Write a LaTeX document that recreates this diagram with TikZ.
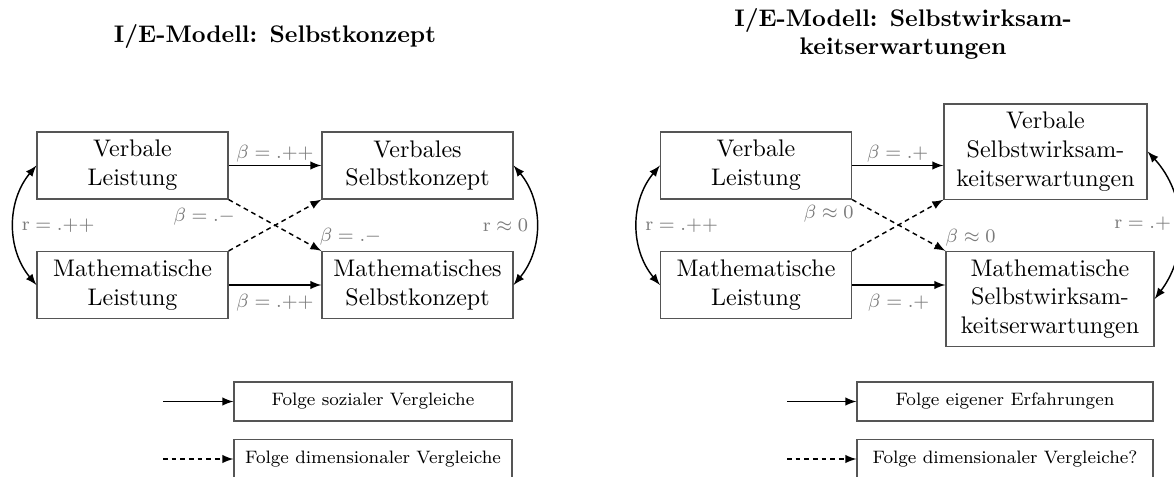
\documentclass[tikz,border=0pt]{standalone}
\usepackage{amsmath}
\usepackage{amssymb}
\usepackage{tikz}
\usetikzlibrary{calc}
\usepackage{xcolor}
\definecolor{frame_gray}{HTML}{555555}
\definecolor{coef_gray}{HTML}{7a7a7a}

\begin{document}
\begin{tikzpicture}[x=0.4167pt, y=-0.4167pt, >=latex,
	box/.style={draw=frame_gray, line width=0.5pt, align=center, minimum width=79.6pt, minimum height=27.9pt},
	legendbox/.style={draw=frame_gray, line width=0.5pt, font=\fontsize{7.5}{9}\selectfont, inner sep=2pt, minimum height=16.2pt},
	coef/.style={font=\footnotesize, text=coef_gray, inner sep=1pt},
	path/.style={line width=0.6pt},
	dimpath/.style={line width=0.6pt, dash pattern=on 2pt off 1.6pt}]
	\useasboundingbox (0, 0) rectangle (1174, 476);
	\node[font=\bfseries] (T1) at (275, 36) {I/E-Modell: Selbstkonzept};
	\node[box] (VL) at (132.5, 165.5) {Verbale\\Leistung};
	\node[box] (ML) at (132.5, 285) {Mathematische\\Leistung};
	\node[box] (VS) at (417.5, 165.5) {Verbales\\Selbstkonzept};
	\node[box] (MS) at (417.5, 285) {Mathematisches\\Selbstkonzept};
	\draw[path, ->] (VL) -- (VS) node[midway, above, coef] {$\beta = .{+}{+}$};
	\draw[path, ->] (ML) -- (MS) node[midway, below=2.5pt, coef] {$\beta = .{+}{+}$};
	\draw[dimpath, ->] (VL.south east) -- (MS.north west) node[pos=0.1, below left, coef] {$\beta = .{-}$} node[pos=0.95, above right, coef] {$\beta = .{-}$};
	\draw[dimpath, ->] (ML.north east) -- (VS.south west);
	\draw[path, <->] (VL.west) to[bend right=40] node[midway, right=2pt, coef] {$\mathrm{r} = .{+}{+}$} (ML.west);
	\draw[path, <->] (VS.east) to[bend left=40] node[midway, left=2pt, coef] {$\mathrm{r} \approx 0$} (MS.east);
	\node[legendbox, minimum width=115.8pt] (L1) at (373, 401.5) {Folge sozialer Vergleiche};
	\node[legendbox, minimum width=115.8pt] (L2) at (373, 459) {Folge dimensionaler Vergleiche};
	\coordinate (L1s) at (163, 401.5);
	\coordinate (L2s) at (163, 459);
	\draw[path, ->] (L1s) -- (L1);
	\draw[dimpath, ->] (L2s) -- (L2);
	\node[font=\bfseries, align=center] (T2) at (903, 34) {I/E-Modell: Selbstwirksam-\\keitserwartungen};
	\node[box] (VL2) at (756, 165.5) {Verbale\\Leistung};
	\node[box] (ML2) at (756, 285) {Mathematische\\Leistung};
	\node[box, minimum width=84.6pt] (VS2) at (1045.5, 151.5) {Verbale\\Selbstwirksam-\\keitserwartungen};
	\node[box, minimum width=86.7pt] (MS2) at (1050, 299) {Mathematische\\Selbstwirksam-\\keitserwartungen};
	\draw[path, ->] (VL2.east) -- (VL2.east -| VS2.west) node[midway, above, coef] {$\beta = .{+}$};
	\draw[path, ->] (ML2.east) -- (ML2.east -| MS2.west) node[midway, below=2.5pt, coef] {$\beta = .{+}$};
	\draw[dimpath, ->] (VL2.south east) -- (MS2.north west) node[pos=0.05, below left, coef] {$\beta \approx 0$} node[pos=0.97, above right, coef] {$\beta \approx 0$};
	\draw[dimpath, ->] (ML2.north east) -- (VS2.south west);
	\draw[path, <->] (VL2.west) to[bend right=40] node[midway, right=2pt, coef] {$\mathrm{r} = .{+}{+}$} (ML2.west);
	\draw[path, <->] (VS2.east) to[bend left=40] node[midway, left=2pt, coef] {$\mathrm{r} = .{+}$} (MS2.east);
	\node[legendbox, minimum width=123.3pt] (L3) at (1005, 401.5) {Folge eigener Erfahrungen};
	\node[legendbox, minimum width=123.3pt] (L4) at (1005, 459) {Folge dimensionaler Vergleiche?};
	\coordinate (L3s) at (787, 401.5);
	\coordinate (L4s) at (787, 459);
	\draw[path, ->] (L3s) -- (L3);
	\draw[dimpath, ->] (L4s) -- (L4);
\end{tikzpicture}
\end{document}
